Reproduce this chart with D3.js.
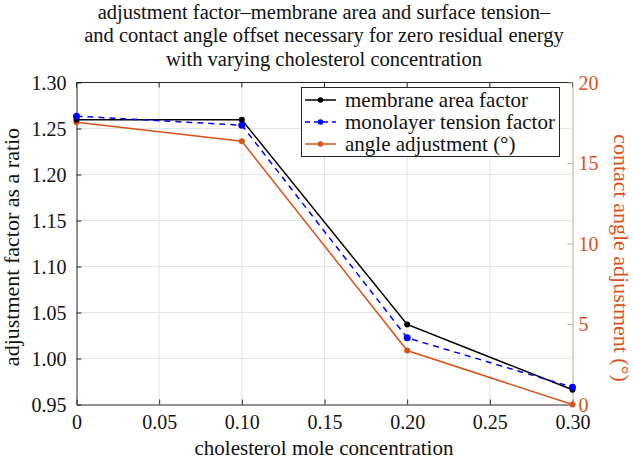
<!DOCTYPE html>
<html><head><meta charset="utf-8">
<script src="https://cdn.jsdelivr.net/npm/d3@7"></script>
<style>body{margin:0;background:#fff}svg{display:block}svg text{font-family:"Liberation Serif","Times New Roman",serif !important}</style>
</head><body><svg id="c" width="633" height="460"></svg>
<script>
const concentrations = [0, 0.10, 0.20, 0.30];
const membraneAreaFactor = [1.2594, 1.2594, 1.0370, 0.9660];
const monolayerTensionFactor = [1.2634, 1.2536, 1.0225, 0.9688];
const angleAdjustment = [17.53, 16.35, 3.35, 0.0];
const xTicks = [0, 0.05, 0.10, 0.15, 0.20, 0.25, 0.30];
const xTickLabels = ["0", "0.05", "0.10", "0.15", "0.20", "0.25", "0.30"];
const yTicks = [0.95, 1.00, 1.05, 1.10, 1.15, 1.20, 1.25, 1.30];
const yRightTicks = [0, 5, 10, 15, 20];
const titleLines = ["adjustment factor\u2013membrane area and surface tension\u2013",
  "and contact angle offset necessary for zero residual energy",
  "with varying cholesterol concentration"];
const legendLabels = ["membrane area factor", "monolayer tension factor", "angle adjustment (\u00b0)"];

const svg = d3.select("#c");
const L = 76.5, R = 572.5, T = 82.5, B = 404.5;
const x = d3.scaleLinear().domain([0, 0.30]).range([L, R]);
const y = d3.scaleLinear().domain([0.95, 1.30]).range([B, T]);
const y2 = d3.scaleLinear().domain([0, 20]).range([B, T]);
const orange = "#D95319", blue = "#0000FF", black = "#000000";
const axisGray = "#262626", rightAxisColor = "#c9a48c";
const SERIF = "Liberation Serif";

// title
svg.append("g").selectAll("text").data(titleLines).join("text")
  .attr("x", 324).attr("y", (d, i) => 18.5 + i * 23.5)
  .attr("text-anchor", "middle").attr("font-size", 20.5).attr("fill", "#111")
  .text(d => d);

// grid
const grid = svg.append("g").attr("stroke", "#e3e3e3").attr("stroke-width", 1);
grid.selectAll(".gx").data(xTicks.slice(1, -1)).join("line")
  .attr("x1", d => x(d)).attr("x2", d => x(d)).attr("y1", T).attr("y2", B);
grid.selectAll(".gy").data(yTicks.slice(1, -1)).join("line")
  .attr("y1", d => y(d)).attr("y2", d => y(d)).attr("x1", L).attr("x2", R);

// box top
svg.append("line").attr("x1", L).attr("x2", R).attr("y1", T).attr("y2", T).attr("stroke", axisGray);
svg.append("g").selectAll("line").data(xTicks).join("line")
  .attr("x1", d => x(d)).attr("x2", d => x(d)).attr("y1", T).attr("y2", T + 5).attr("stroke", axisGray);

// bottom axis
const xAxis = d3.axisBottom(x).tickValues(xTicks).tickFormat((d, i) => xTickLabels[i]).tickSizeInner(-5).tickSizeOuter(0);
const gx = svg.append("g").attr("transform", `translate(0,${B})`).call(xAxis).attr("font-family", SERIF);
gx.select(".domain").attr("stroke", axisGray);
gx.selectAll(".tick line").attr("stroke", axisGray);
gx.selectAll("text").attr("font-size", 20).attr("fill", "#111").attr("y", 24.5).attr("dy", 0);

// left axis
const yAxis = d3.axisLeft(y).tickValues(yTicks).tickFormat(d3.format(".2f")).tickSizeInner(-5).tickSizeOuter(0).tickPadding(10);
const gy = svg.append("g").attr("transform", `translate(${L},0)`).call(yAxis).attr("font-family", SERIF);
gy.select(".domain").attr("stroke", axisGray);
gy.selectAll(".tick line").attr("stroke", axisGray);
gy.selectAll("text").attr("font-size", 20).attr("fill", "#111").attr("dy", "0.34em");

// right axis
const yAxis2 = d3.axisRight(y2).tickValues(yRightTicks).tickFormat(d3.format("d")).tickSizeInner(-5).tickSizeOuter(0).tickPadding(6);
const gy2 = svg.append("g").attr("transform", `translate(${R},0)`).call(yAxis2).attr("font-family", SERIF);
gy2.select(".domain").attr("stroke", rightAxisColor);
gy2.selectAll(".tick line").attr("stroke", rightAxisColor);
gy2.selectAll("text").attr("font-size", 20).attr("fill", orange).attr("dy", "0.34em");

// axis labels
svg.append("text").attr("x", 324).attr("y", 455).attr("text-anchor", "middle")
  .attr("font-size", 21).attr("fill", "#111").text("cholesterol mole concentration");
svg.append("text").attr("transform", `translate(18.5,247) rotate(-90)`).attr("text-anchor", "middle")
  .attr("font-size", 22).attr("fill", "#111").text("adjustment factor as a ratio");
svg.append("text").attr("transform", `translate(614,258) rotate(90)`).attr("text-anchor", "middle")
  .attr("font-size", 22).attr("fill", orange).text("contact angle adjustment (\u00b0)");

// series
const series = [
  {vals: membraneAreaFactor, sc: y, color: black, dash: null},
  {vals: monolayerTensionFactor, sc: y, color: blue, dash: "6,5"},
  {vals: angleAdjustment, sc: y2, color: orange, dash: null}
];
const order = [2, 0, 1];
order.forEach(k => {
  const s = series[k];
  const pts = concentrations.map((c, i) => [c, s.vals[i]]);
  const line = d3.line().x(d => x(d[0])).y(d => s.sc(d[1]));
  svg.append("path").datum(pts).attr("d", line).attr("fill", "none")
    .attr("stroke", s.color).attr("stroke-width", 1.5).attr("stroke-dasharray", s.dash);
});
order.forEach(k => {
  const s = series[k];
  const pts = concentrations.map((c, i) => [c, s.vals[i]]);
  svg.append("g").selectAll("circle").data(pts).join("circle")
    .attr("cx", d => x(d[0])).attr("cy", d => s.sc(d[1])).attr("r", k === 1 ? 3.5 : 3).attr("fill", s.color);
});

// legend
const lg = svg.append("g");
lg.append("rect").attr("x", 301.5).attr("y", 87.5).attr("width", 258).attr("height", 69)
  .attr("fill", "#fff").attr("stroke", axisGray).attr("stroke-width", 1);
series.forEach((s, i) => {
  const yy = 100 + i * 22;
  lg.append("line").attr("x1", 305).attr("x2", 336).attr("y1", yy).attr("y2", yy)
    .attr("stroke", s.color).attr("stroke-width", 1.5).attr("stroke-dasharray", s.dash ? "5,4" : null);
  lg.append("circle").attr("cx", 320.5).attr("cy", yy).attr("r", 2.8).attr("fill", s.color);
  lg.append("text").attr("x", 345).attr("y", yy + 6.5).attr("font-size", 21).attr("fill", "#111").text(legendLabels[i]);
});
</script></body></html>
